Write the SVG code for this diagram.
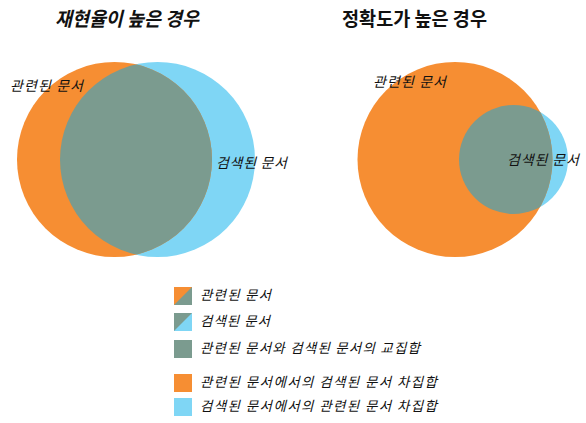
<svg xmlns="http://www.w3.org/2000/svg" width="586" height="423" viewBox="0 0 586 423">
<style>
text{font-family:"Noto Sans CJK KR","Noto Sans",sans-serif;fill:#111}
.t{font-size:19.5px;font-weight:bold}
.l{font-size:14px;font-style:italic}
.g{font-size:13.5px;font-style:italic}
.o{fill:#F68E33}
.b{fill:#7FD6F5}
.i{fill:#7B9B8F}
</style>
<defs>
<clipPath id="cl"><circle cx="157.5" cy="159.5" r="97.5"/></clipPath>
<clipPath id="cr"><circle cx="513.5" cy="159.5" r="54.5"/></clipPath>
</defs>
<g id="left">
<text class="t" x="55" y="26" textLength="144" lengthAdjust="spacingAndGlyphs" font-style="italic">재현율이 높은 경우</text>
<circle class="b" cx="157.5" cy="159.5" r="97.5"/>
<circle class="o" cx="114.5" cy="159.5" r="97.5"/>
<circle class="i" cx="114.5" cy="159.5" r="97.5" clip-path="url(#cl)"/>
<text class="l" x="10" y="91" textLength="73">관련된 문서</text>
<text class="l" x="216" y="168" textLength="71">검색된 문서</text>
</g>
<g id="right">
<text class="t" x="342" y="26" textLength="145" lengthAdjust="spacingAndGlyphs">정확도가 높은 경우</text>
<circle class="b" cx="513.5" cy="159.5" r="54.5"/>
<circle class="o" cx="455" cy="159.5" r="97.5"/>
<circle class="i" cx="455" cy="159.5" r="97.5" clip-path="url(#cr)"/>
<text class="l" x="373" y="87" textLength="73">관련된 문서</text>
<text class="l" x="507" y="165" textLength="72">검색된 문서</text>
</g>
<g id="legend">
<polygon class="i" points="174,287 192,287 192,305 174,305"/>
<polygon class="o" points="174,287 192,287 174,305"/>
<text class="g" x="200" y="300" textLength="71">관련된 문서</text>
<polygon class="b" points="174,313 192,313 192,331 174,331"/>
<polygon class="i" points="174,313 192,313 174,331"/>
<text class="g" x="200" y="326" textLength="70">검색된 문서</text>
<rect class="i" x="174" y="340" width="18" height="18"/>
<text class="g" x="200" y="353" textLength="220">관련된 문서와 검색된 문서의 교집합</text>
<rect class="o" x="174" y="374" width="18" height="18"/>
<text class="g" x="200" y="387" textLength="237">관련된 문서에서의 검색된 문서 차집합</text>
<rect class="b" x="174" y="398" width="18" height="18"/>
<text class="g" x="200" y="411" textLength="237">검색된 문서에서의 관련된 문서 차집합</text>
</g>
</svg>
